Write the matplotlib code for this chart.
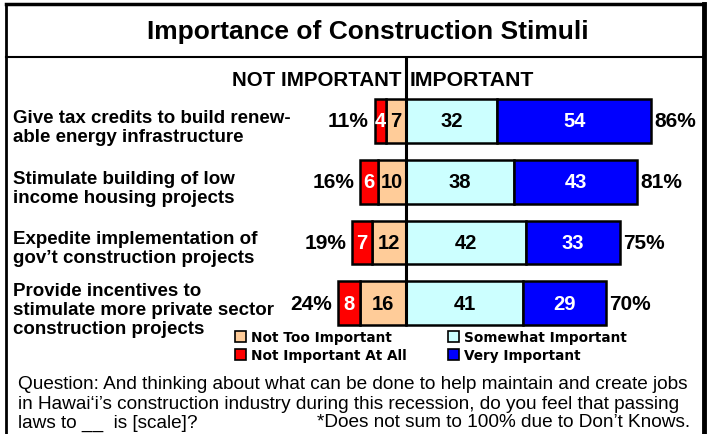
import matplotlib.pyplot as plt
from matplotlib.lines import Line2D
from matplotlib.patches import Rectangle

# data
categories = ["Give tax credits to build renew-\nable energy infrastructure",
              "Stimulate building of low\nincome housing projects",
              "Expedite implementation of\ngov\u2019t construction projects",
              "Provide incentives to\nstimulate more private sector\nconstruction projects"]
not_at_all = [4, 6, 7, 8]
not_too = [7, 10, 12, 16]
somewhat = [32, 38, 42, 41]
very = [54, 43, 33, 29]
not_total = ["11%", "16%", "19%", "24%"]
imp_total = ["86%", "81%", "75%", "70%"]

C_RED = "#FF0000"
C_PEACH = "#FFCC99"
C_CYAN = "#CCFFFF"
C_BLUE = "#0000FF"

BOLD = ["Liberation Sans", "DejaVu Sans"]
WIDE = ["DejaVu Sans"]

W, H = 709, 435
fig = plt.figure(figsize=(W / 100, H / 100), dpi=100)
ax = fig.add_axes([0, 0, 1, 1])
zero_px, ppu = 406, 2.85
ax.set_xlim(-zero_px / ppu, (W - zero_px) / ppu)
y0, dy = 122, 60.7
ax.set_ylim((H - y0) / dy, -y0 / dy)
ax.axis("off")


def fx(x):
    return x / W


def fy(y):
    return 1 - y / H


ypos = list(range(len(categories)))
bh = 0.72
lw = 1.8
ax.barh(ypos, [-v for v in not_too], height=bh, color=C_PEACH, edgecolor="black", linewidth=lw, zorder=2)
ax.barh(ypos, [-v for v in not_at_all], left=[-v for v in not_too], height=bh, color=C_RED,
        edgecolor="black", linewidth=lw, zorder=2)
ax.barh(ypos, somewhat, height=bh, color=C_CYAN, edgecolor="black", linewidth=lw, zorder=2)
ax.barh(ypos, very, left=somewhat, height=bh, color=C_BLUE, edgecolor="black", linewidth=lw, zorder=2)

fs_in = 14.5
fs_tot = 15
for i in ypos:
    a, b, s, v = not_at_all[i], not_too[i], somewhat[i], very[i]
    ax.text(-b / 2, i, str(b), ha="center", va="center", fontsize=fs_in, fontweight="bold", family=BOLD, color="black", zorder=3)
    ax.text(-b - a / 2, i, str(a), ha="center", va="center", fontsize=fs_in, fontweight="bold", family=BOLD, color="white", zorder=3)
    ax.text(s / 2, i, str(s), ha="center", va="center", fontsize=fs_in, fontweight="bold", family=BOLD, color="black", zorder=3)
    ax.text(s + v / 2, i, str(v), ha="center", va="center", fontsize=fs_in, fontweight="bold", family=BOLD, color="white", zorder=3)
    ax.text(-a - b - 2.0, i, not_total[i], ha="right", va="center", fontsize=fs_tot, fontweight="bold", family=BOLD, zorder=3)
    ax.text(s + v + 1.3, i, imp_total[i], ha="left", va="center", fontsize=fs_tot, fontweight="bold", family=BOLD, zorder=3)
    ax.text(-zero_px / ppu + 13 / ppu, i + 0.1, categories[i], ha="left", va="center", fontsize=13.5,
            fontweight="bold", family=BOLD, linespacing=1.15, zorder=3)

# zero line
ax.plot([0, 0], [-64 / dy, 3 + bh / 2], color="black", lw=2.2, zorder=4, solid_capstyle="butt")

# frame
fig.add_artist(Line2D([fx(6), fx(6)], [fy(5), fy(440)], color="black", lw=2))
fig.add_artist(Line2D([fx(704), fx(704)], [fy(5), fy(440)], color="black", lw=3.5))
fig.add_artist(Line2D([fx(6), fx(704)], [fy(5), fy(5)], color="black", lw=2.5))
fig.add_artist(Line2D([fx(6), fx(704)], [fy(58), fy(58)], color="black", lw=1.5))

fig.text(fx(368), fy(32), "Importance of Construction Stimuli", ha="center", va="center",
         fontsize=19, fontweight="bold", family=BOLD)
fig.text(fx(402), fy(80), "NOT IMPORTANT", ha="right", va="center", fontsize=14.8, fontweight="bold", family=BOLD)
fig.text(fx(410), fy(80), "IMPORTANT", ha="left", va="center", fontsize=15.3, fontweight="bold", family=BOLD)

# legend
legend_items = [("Not Too Important", C_PEACH, 235, 338),
                ("Not Important At All", C_RED, 235, 356),
                ("Somewhat Important", C_CYAN, 448, 338),
                ("Very Important", C_BLUE, 448, 356)]
for label, col, lx, ly in legend_items:
    fig.add_artist(Rectangle((fx(lx), fy(ly + 5)), 11 / W, 11 / H, facecolor=col, edgecolor="black", lw=1.2,
                             transform=fig.transFigure))
    fig.text(fx(lx + 16), fy(ly), label, ha="left", va="center", fontsize=9.8, fontweight="bold", family=WIDE)

# question text
q1 = "Question: And thinking about what can be done to help maintain and create jobs"
q2 = "in Hawai\u2018i\u2019s construction industry during this recession, do you feel that passing"
q3 = "laws to __  is [scale]?"
note = "*Does not sum to 100% due to Don\u2019t Knows."
qfs = 13.65
fig.text(fx(18), fy(385), q1, ha="left", va="center", fontsize=qfs, family=BOLD)
fig.text(fx(18), fy(405), q2, ha="left", va="center", fontsize=qfs, family=BOLD)
fig.text(fx(18), fy(423), q3, ha="left", va="center", fontsize=qfs, family=BOLD)
fig.text(fx(690), fy(423), note, ha="right", va="center", fontsize=qfs, family=BOLD)

fig.savefig("out.png", dpi=100)
